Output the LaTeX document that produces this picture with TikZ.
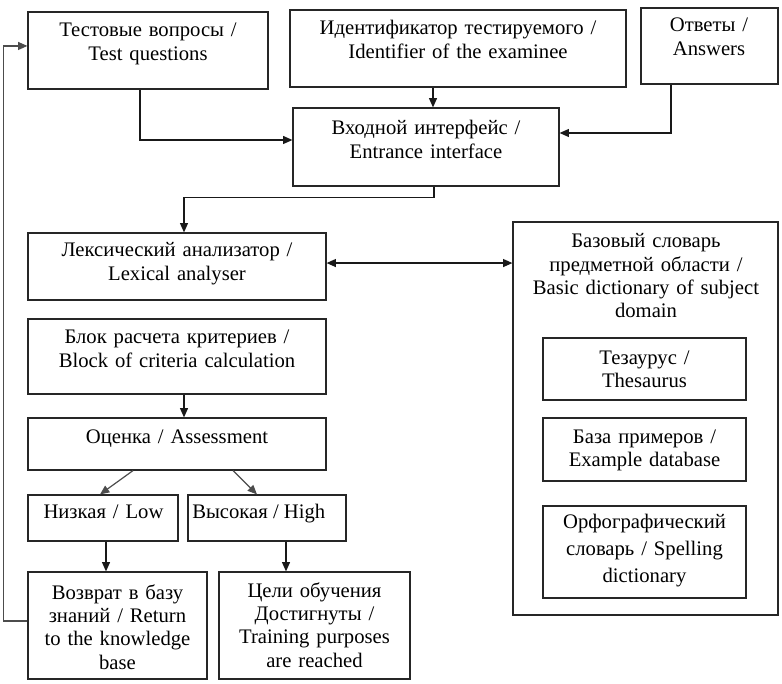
\documentclass[tikz,border=0pt]{standalone}
\usepackage{fontspec}
\setmainfont{Liberation Serif}
\usetikzlibrary{fit,arrows.meta}
\begin{document}
\begin{tikzpicture}[x=0.75pt,y=-0.75pt,
  box/.style={draw=black!85, line width=0.9pt, inner sep=0pt, rectangle},
  txt/.style={inner sep=0pt, align=center, text width=250pt, font=\fontsize{15.5}{17.5}\selectfont},
  tip/.style={-{Triangle[length=7pt,width=6pt]}},
  conn/.style={draw=black!90, line width=0.9pt, tip},
  ]
\useasboundingbox (0,0) rectangle (782,684);
% boxes
\node[box, fit={(28,12) (268,89)}] (tq) {};
\node[box, fit={(290,10) (626,87)}] (id) {};
\node[box, fit={(641,8) (778,84)}] (ans) {};
\node[box, fit={(293,108) (559,186)}] (ent) {};
\node[box, fit={(28,233) (326,300)}] (lex) {};
\node[box, fit={(513,222) (778,615)}] (dict) {};
\node[box, fit={(28,319) (326,394)}] (crit) {};
\node[box, fit={(543,338) (746,400)}] (thes) {};
\node[box, fit={(543,418) (746,481)}] (exdb) {};
\node[box, fit={(543,506) (746,598)}] (spell) {};
\node[box, fit={(28,418) (326,470)}] (ass) {};
\node[box, fit={(28,495) (178,541)}] (low) {};
\node[box, fit={(188,495) (346,541)}] (high) {};
\node[box, fit={(28,572) (207,679)}] (ret) {};
\node[box, fit={(219,572) (410,679)}] (train) {};
% texts
\node[txt, anchor=base] (tqt) at (148,37) {Тестовые вопросы /\\Test questions};
\node[txt, anchor=base] (idt) at (458,35) {Идентификатор тестируемого /\\Identifier of the examinee};
\node[txt, anchor=base] (anst) at (709,32) {Ответы /\\Answers};
\node[txt, anchor=base] (entt) at (426,135) {Входной интерфейс /\\Entrance interface};
\node[txt, anchor=base] (lext) at (177,257) {Лексический анализатор /\\Lexical analyser};
\node[txt, anchor=base] (dictt) at (646,248) {Базовый словарь\\предметной области /\\Basic dictionary of subject\\domain};
\node[txt, anchor=base] (critt) at (177,344) {Блок расчета критериев /\\Block of criteria calculation};
\node[txt, anchor=base] (thest) at (644.5,364) {Тезаурус /\\Thesaurus};
\node[txt, anchor=base] (exdbt) at (644.5,443) {База примеров /\\Example database};
\node[txt, anchor=base, font=\fontsize{15.5}{20.25}\selectfont] (spellt) at (644.5,528) {Орфографический\\словарь / Spelling\\dictionary};
\node[txt, anchor=base] (asst) at (177,443) {Оценка / Assessment};
\node[txt, anchor=base] (lowt) at (103.5,518) {Низкая / Low};
\node[txt, text width=, anchor=base west] (hight) at (192,518) {Высокая / High};
\node[txt, anchor=base] (rett) at (117.5,599) {Возврат в базу\\знаний / Return\\to the knowledge\\base};
\node[txt, anchor=base] (traint) at (314.5,597) {Цели обучения\\Достигнуты /\\Training purposes\\are reached};
% connectors
\draw[conn] ([xshift=-6pt]tq.south) |- ([yshift=5.25pt]ent.west);
\coordinate (idx) at ([xshift=5.25pt]ent.north);
\draw[conn] (idx |- id.south) -- (idx);
\draw[conn] ([xshift=-28.9pt]ans.south) |- ([yshift=10.5pt]ent.east);
\draw[conn] ([xshift=6pt]ent.south) -- ++(0,11) -| ([xshift=5.25pt]lex.north);
\coordinate (l1) at ([yshift=2.6pt]lex.east);
\draw[conn, {Triangle[length=7pt,width=6pt]}-{Triangle[length=7pt,width=6pt]}] (l1) -- (l1 -| dict.west);
\draw[conn] ([xshift=5.25pt]crit.south) -- ([xshift=5.25pt]ass.north);
\draw[conn, draw=black!70] ([xshift=-33pt]ass.south) -- ([xshift=-2.25pt]low.north);
\draw[conn, draw=black!70] ([xshift=42pt]ass.south) -- ([xshift=-7.5pt]high.north);
\coordinate (lo) at ([xshift=2.25pt]low.south);
\draw[conn] (lo) -- (lo |- ret.north);
\coordinate (hi) at ([xshift=14.25pt]high.south);
\draw[conn] (hi) -- (hi |- train.north);
\draw[conn, draw=black!70] ([yshift=3.4pt]ret.west) -- ++(-24,0) |- ([yshift=3.4pt]tq.west);
\end{tikzpicture}
\end{document}
